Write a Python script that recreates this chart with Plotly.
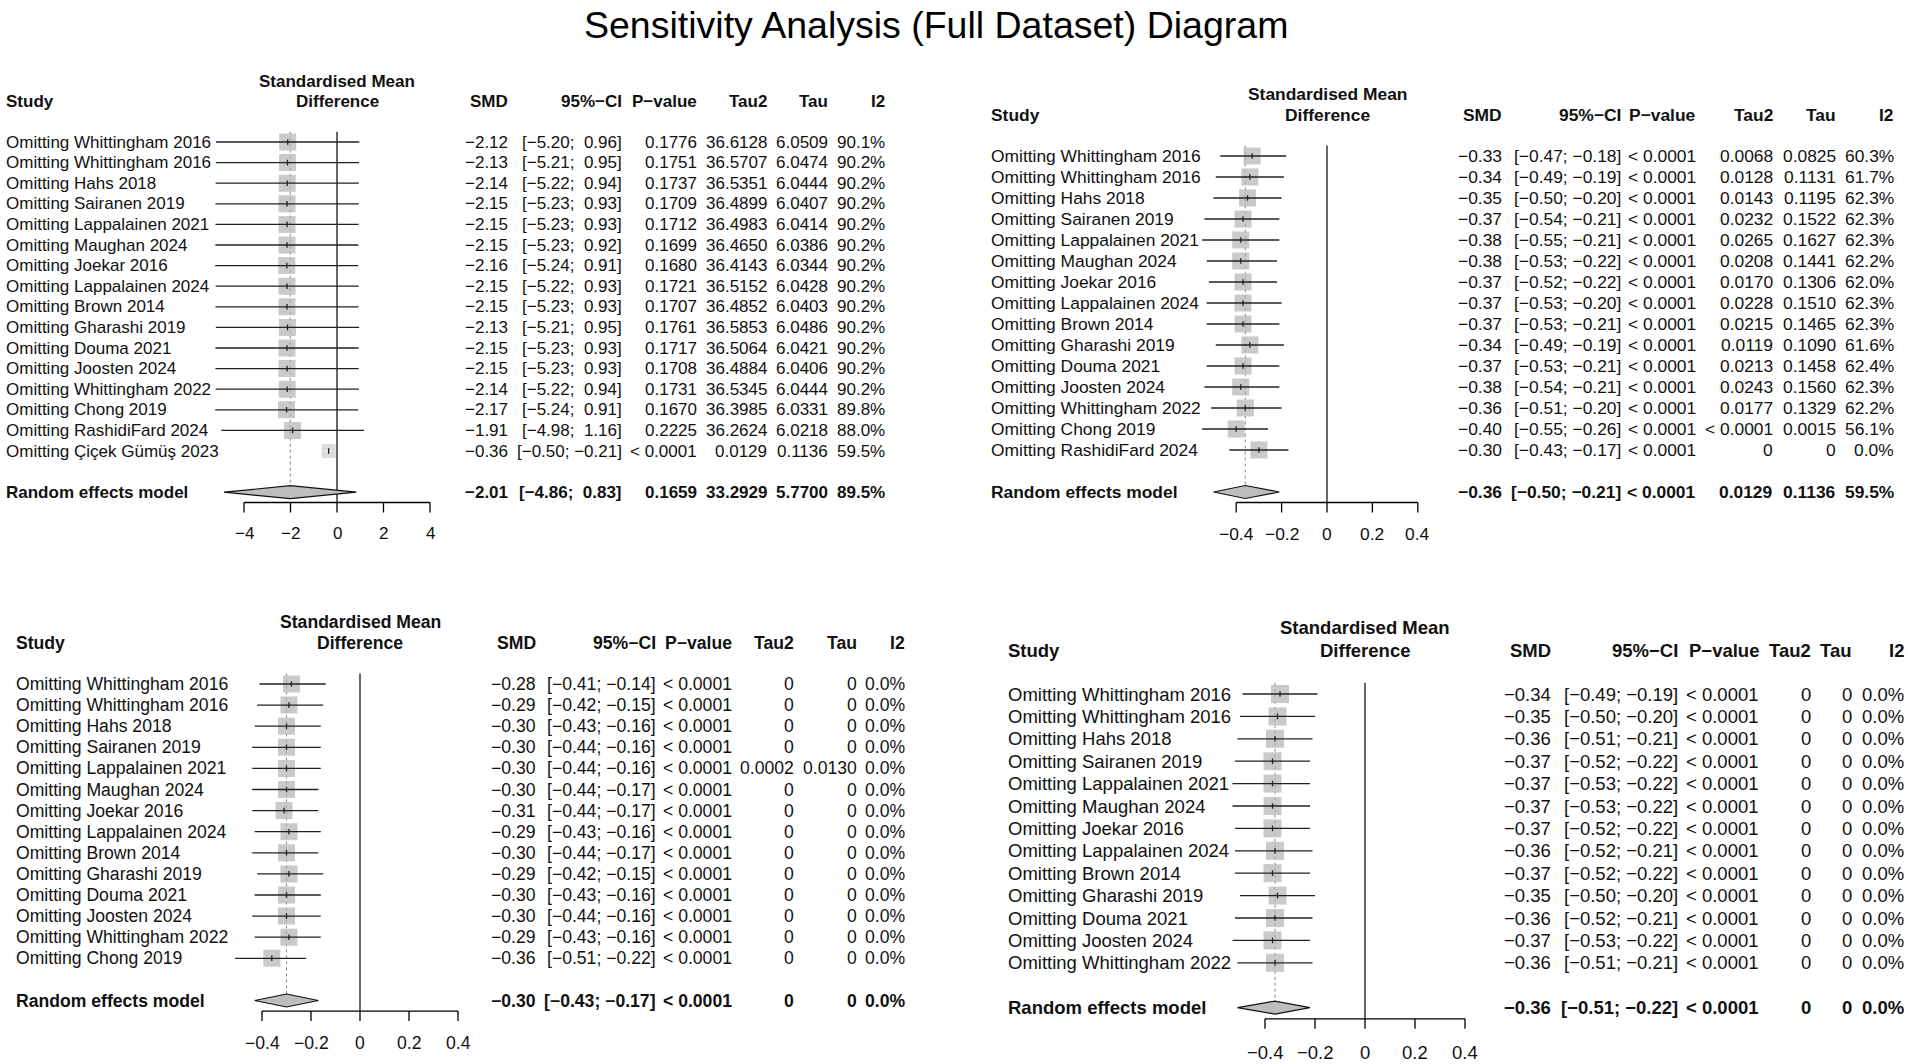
import plotly.graph_objects as go

W, H = 1908, 1064

# ---------------- data ----------------
TITLE = "Sensitivity Analysis (Full Dataset) Diagram"
HEADERS = ["SMD", "95%\u2212CI", "P\u2212value", "Tau2", "Tau", "I2"]
RE_LABEL = "Random effects model"

STUDIES = ["Whittingham 2016", "Whittingham 2016", "Hahs 2018", "Sairanen 2019",
           "Lappalainen 2021", "Maughan 2024", "Joekar 2016", "Lappalainen 2024",
           "Brown 2014", "Gharashi 2019", "Douma 2021", "Joosten 2024",
           "Whittingham 2022", "Chong 2019", "RashidiFard 2024", "Çiçek Gümüş 2023"]

# Panel 1 (top-left): 16 studies
P1_SMD = [-2.12, -2.13, -2.14, -2.15, -2.15, -2.15, -2.16, -2.15, -2.15, -2.13, -2.15, -2.15, -2.14, -2.17, -1.91, -0.36]
P1_LO = [-5.20, -5.21, -5.22, -5.23, -5.23, -5.23, -5.24, -5.22, -5.23, -5.21, -5.23, -5.23, -5.22, -5.24, -4.98, -0.50]
P1_HI = [0.96, 0.95, 0.94, 0.93, 0.93, 0.92, 0.91, 0.93, 0.93, 0.95, 0.93, 0.93, 0.94, 0.91, 1.16, -0.21]
P1_P = ["0.1776", "0.1751", "0.1737", "0.1709", "0.1712", "0.1699", "0.1680", "0.1721", "0.1707", "0.1761", "0.1717", "0.1708", "0.1731", "0.1670", "0.2225", "< 0.0001"]
P1_TAU2 = ["36.6128", "36.5707", "36.5351", "36.4899", "36.4983", "36.4650", "36.4143", "36.5152", "36.4852", "36.5853", "36.5064", "36.4884", "36.5345", "36.3985", "36.2624", "0.0129"]
P1_TAU = ["6.0509", "6.0474", "6.0444", "6.0407", "6.0414", "6.0386", "6.0344", "6.0428", "6.0403", "6.0486", "6.0421", "6.0406", "6.0444", "6.0331", "6.0218", "0.1136"]
P1_I2 = [90.1, 90.2, 90.2, 90.2, 90.2, 90.2, 90.2, 90.2, 90.2, 90.2, 90.2, 90.2, 90.2, 89.8, 88.0, 59.5]
P1_RE = dict(smd=-2.01, lo=-4.86, hi=0.83, p="0.1659", tau2="33.2929", tau="5.7700", i2=89.5)
P1_TICKS = [-4, -2, 0, 2, 4]

# Panel 2 (top-right): 15 studies
P2_SMD = [-0.33, -0.34, -0.35, -0.37, -0.38, -0.38, -0.37, -0.37, -0.37, -0.34, -0.37, -0.38, -0.36, -0.40, -0.30]
P2_LO = [-0.47, -0.49, -0.50, -0.54, -0.55, -0.53, -0.52, -0.53, -0.53, -0.49, -0.53, -0.54, -0.51, -0.55, -0.43]
P2_HI = [-0.18, -0.19, -0.20, -0.21, -0.21, -0.22, -0.22, -0.20, -0.21, -0.19, -0.21, -0.21, -0.20, -0.26, -0.17]
P2_P = ["< 0.0001"] * 15
P2_TAU2 = ["0.0068", "0.0128", "0.0143", "0.0232", "0.0265", "0.0208", "0.0170", "0.0228", "0.0215", "0.0119", "0.0213", "0.0243", "0.0177", "< 0.0001", "0"]
P2_TAU = ["0.0825", "0.1131", "0.1195", "0.1522", "0.1627", "0.1441", "0.1306", "0.1510", "0.1465", "0.1090", "0.1458", "0.1560", "0.1329", "0.0015", "0"]
P2_I2 = [60.3, 61.7, 62.3, 62.3, 62.3, 62.2, 62.0, 62.3, 62.3, 61.6, 62.4, 62.3, 62.2, 56.1, 0.0]
P2_RE = dict(smd=-0.36, lo=-0.50, hi=-0.21, p="< 0.0001", tau2="0.0129", tau="0.1136", i2=59.5)
P2_TICKS = [-0.4, -0.2, 0, 0.2, 0.4]

# Panel 3 (bottom-left): 14 studies
P3_SMD = [-0.28, -0.29, -0.30, -0.30, -0.30, -0.30, -0.31, -0.29, -0.30, -0.29, -0.30, -0.30, -0.29, -0.36]
P3_LO = [-0.41, -0.42, -0.43, -0.44, -0.44, -0.44, -0.44, -0.43, -0.44, -0.42, -0.43, -0.44, -0.43, -0.51]
P3_HI = [-0.14, -0.15, -0.16, -0.16, -0.16, -0.17, -0.17, -0.16, -0.17, -0.15, -0.16, -0.16, -0.16, -0.22]
P3_P = ["< 0.0001"] * 14
P3_TAU2 = ["0", "0", "0", "0", "0.0002", "0", "0", "0", "0", "0", "0", "0", "0", "0"]
P3_TAU = ["0", "0", "0", "0", "0.0130", "0", "0", "0", "0", "0", "0", "0", "0", "0"]
P3_I2 = [0.0] * 14
P3_RE = dict(smd=-0.30, lo=-0.43, hi=-0.17, p="< 0.0001", tau2="0", tau="0", i2=0.0)
P3_TICKS = [-0.4, -0.2, 0, 0.2, 0.4]

# Panel 4 (bottom-right): 13 studies
P4_SMD = [-0.34, -0.35, -0.36, -0.37, -0.37, -0.37, -0.37, -0.36, -0.37, -0.35, -0.36, -0.37, -0.36]
P4_LO = [-0.49, -0.50, -0.51, -0.52, -0.53, -0.53, -0.52, -0.52, -0.52, -0.50, -0.52, -0.53, -0.51]
P4_HI = [-0.19, -0.20, -0.21, -0.22, -0.22, -0.22, -0.22, -0.21, -0.22, -0.20, -0.21, -0.22, -0.21]
P4_P = ["< 0.0001"] * 13
P4_TAU2 = ["0"] * 13
P4_TAU = ["0"] * 13
P4_I2 = [0.0] * 13
P4_RE = dict(smd=-0.36, lo=-0.51, hi=-0.22, p="< 0.0001", tau2="0", tau="0", i2=0.0)
P4_TICKS = [-0.4, -0.2, 0, 0.2, 0.4]

DATA = [
    (P1_SMD, P1_LO, P1_HI, P1_P, P1_TAU2, P1_TAU, P1_I2, P1_RE, P1_TICKS),
    (P2_SMD, P2_LO, P2_HI, P2_P, P2_TAU2, P2_TAU, P2_I2, P2_RE, P2_TICKS),
    (P3_SMD, P3_LO, P3_HI, P3_P, P3_TAU2, P3_TAU, P3_I2, P3_RE, P3_TICKS),
    (P4_SMD, P4_LO, P4_HI, P4_P, P4_TAU2, P4_TAU, P4_I2, P4_RE, P4_TICKS),
]

# ---------------- layout / style (pixel geometry) ----------------
LAY = [
    dict(x0=337, ppu=23.25, xr=(-6.5, 5.0), py1=142, sp=20.6, sx=5,
         cols=[509, 623, 698, 768, 829, 886], fs=17.0, sq=17),
    dict(x0=1327, ppu=227.0, xr=(-0.7, 0.5), py1=156, sp=21.0, sx=990,
         cols=[1503, 1622, 1697, 1774, 1837, 1895], fs=17.4, sq=17),
    dict(x0=360, ppu=245.0, xr=(-0.7, 0.5), py1=684, sp=21.1, sx=15,
         cols=[537, 657, 733, 795, 858, 906], fs=17.6, sq=17),
    dict(x0=1365, ppu=250.0, xr=(-0.7, 0.5), py1=694, sp=22.4, sx=1007,
         cols=[1552, 1679, 1760, 1812, 1853, 1905], fs=18.5, sq=18),
]

FONT = "Liberation Sans, Arial, Helvetica, sans-serif"
TXT = "#111111"
SQ_COL = "#b4b4b4"
MINUS = "\u2212"
NB = "\u00a0"


def num(v, d=2):
    return f"{v:.{d}f}".replace("-", MINUS)


def txt(s):
    return s.replace("-", MINUS)


fig = go.Figure()
annotations = []

for k, (data, lay) in enumerate(zip(DATA, LAY), start=1):
    smd, lo, hi, pv, tau2, tau, i2, re, ticks = data
    n = len(smd)
    xa = "x" if k == 1 else f"x{k}"
    ya = "y" if k == 1 else f"y{k}"
    xkey = "xaxis" if k == 1 else f"xaxis{k}"
    ykey = "yaxis" if k == 1 else f"yaxis{k}"
    sp = lay["sp"]
    fs = lay["fs"]

    rtop, rbot = -2.5, n + 4.3
    top_px = lay["py1"] + (rtop - 1) * sp
    bot_px = lay["py1"] + (rbot - 1) * sp
    x_left = lay["x0"] + lay["xr"][0] * lay["ppu"]
    x_right = lay["x0"] + lay["xr"][1] * lay["ppu"]
    fig.layout[xkey] = dict(domain=[x_left / W, x_right / W], range=list(lay["xr"]),
                            visible=False, fixedrange=True, anchor=ya)
    fig.layout[ykey] = dict(domain=[1 - bot_px / H, 1 - top_px / H], range=[rbot, rtop],
                            visible=False, fixedrange=True, anchor=xa)

    rows = list(range(1, n + 1))
    re_row = n + 2
    ax_row = n + 2.5
    tick_rows = 10 / sp

    # zero line
    fig.add_trace(go.Scatter(x=[0, 0], y=[0.5, ax_row], mode="lines",
                             line=dict(color="#000", width=1.2), xaxis=xa, yaxis=ya,
                             hoverinfo="skip", showlegend=False))
    # dotted line at pooled estimate
    fig.add_trace(go.Scatter(x=[re["smd"], re["smd"]], y=[0.5, re_row - 0.3], mode="lines",
                             line=dict(color="#888", width=1, dash="dot"), xaxis=xa, yaxis=ya,
                             hoverinfo="skip", showlegend=False))
    # x axis line + ticks
    axx, axy = [ticks[0], ticks[-1], None], [ax_row, ax_row, None]
    for t in ticks:
        axx += [t, t, None]
        axy += [ax_row, ax_row + tick_rows, None]
    fig.add_trace(go.Scatter(x=axx, y=axy, mode="lines", line=dict(color="#000", width=1.3),
                             xaxis=xa, yaxis=ya, hoverinfo="skip", showlegend=False))
    # squares
    sizes, colors = [], []
    for j in range(n):
        if (hi[j] - lo[j]) * lay["ppu"] < lay["sq"] - 4:
            sizes.append(lay["sq"] - 3)
            colors.append("#cdcdcd")
        else:
            sizes.append(lay["sq"])
            colors.append(SQ_COL)
    fig.add_trace(go.Scatter(x=smd, y=rows, mode="markers",
                             marker=dict(symbol="square", size=sizes, color=colors, line=dict(width=0)),
                             xaxis=xa, yaxis=ya, hoverinfo="skip", showlegend=False))
    # CI lines (white when inside the square)
    cx_b, cy_b, cx_w, cy_w = [], [], [], []
    for j in range(n):
        if (hi[j] - lo[j]) * lay["ppu"] < sizes[j]:
            cx_w += [lo[j], hi[j], None]
            cy_w += [j + 1, j + 1, None]
        else:
            cx_b += [lo[j], hi[j], None]
            cy_b += [j + 1, j + 1, None]
    fig.add_trace(go.Scatter(x=cx_b, y=cy_b, mode="lines", line=dict(color="#222", width=1.3),
                             xaxis=xa, yaxis=ya, hoverinfo="skip", showlegend=False))
    if cx_w:
        fig.add_trace(go.Scatter(x=cx_w, y=cy_w, mode="lines", line=dict(color="#fff", width=1.2),
                                 xaxis=xa, yaxis=ya, hoverinfo="skip", showlegend=False))
    # small point marks
    fig.add_trace(go.Scatter(x=smd, y=rows, mode="markers",
                             marker=dict(symbol="line-ns", size=4, line=dict(color="#222", width=1.3)),
                             xaxis=xa, yaxis=ya, hoverinfo="skip", showlegend=False))
    # diamond
    hh = 6.5 / sp
    fig.add_trace(go.Scatter(x=[re["lo"], re["smd"], re["hi"], re["smd"], re["lo"]],
                             y=[re_row, re_row - hh, re_row, re_row + hh, re_row],
                             mode="lines", fill="toself", fillcolor="#bdbdbd",
                             line=dict(color="#111", width=1.2),
                             xaxis=xa, yaxis=ya, hoverinfo="skip", showlegend=False))

    def ann(text, xpx, row, anchor="right", bold=False, size=None):
        annotations.append(dict(
            text=f"<b>{text}</b>" if bold else text,
            x=xpx / W, xref="paper", y=row, yref=ya,
            xanchor=anchor, yanchor="middle", showarrow=False, borderpad=0,
            font=dict(family=FONT, size=size or fs, color=TXT)))

    # headers
    ann("Study", lay["sx"], -0.95, anchor="left", bold=True)
    ann("Standardised Mean", lay["x0"], -1.95, anchor="center", bold=True)
    ann("Difference", lay["x0"], -0.95, anchor="center", bold=True)
    for h, cx in zip(HEADERS, lay["cols"]):
        ann(h, cx, -0.95, bold=True)

    # CI padding
    all_lo = [num(v) for v in lo + [re["lo"]]]
    all_hi = [num(v) for v in hi + [re["hi"]]]
    wl = max(len(s) for s in all_lo)
    wh = max(len(s) for s in all_hi)

    def ci(a, b):
        return "[" + NB * (wl - len(a)) + a + ";" + NB + NB * (wh - len(b)) + b + "]"

    for j in range(n):
        r = j + 1
        ann("Omitting " + STUDIES[j], lay["sx"], r, anchor="left")
        vals = [num(smd[j]), ci(all_lo[j], all_hi[j]), pv[j], tau2[j], tau[j], f"{i2[j]:.1f}%"]
        for v, cx in zip(vals, lay["cols"]):
            ann(v.replace(" ", NB), cx, r)

    ann(RE_LABEL, lay["sx"], re_row, anchor="left", bold=True)
    vals = [num(re["smd"]), ci(all_lo[-1], all_hi[-1]), re["p"], re["tau2"], re["tau"], f"{re['i2']:.1f}%"]
    for v, cx in zip(vals, lay["cols"]):
        ann(v.replace(" ", NB), cx, re_row, bold=True)

    # tick labels
    for t in ticks:
        lab = "0" if t == 0 else txt(f"{t:g}")
        annotations.append(dict(text=lab, x=t, xref=xa, y=n + 4.0, yref=ya,
                                xanchor="center", yanchor="middle", showarrow=False, borderpad=0,
                                font=dict(family=FONT, size=fs, color=TXT)))

annotations.append(dict(text=TITLE, x=936 / W, xref="paper", y=1 - 25 / H, yref="paper",
                        xanchor="center", yanchor="middle", showarrow=False, borderpad=0,
                        font=dict(family="Liberation Sans Narrow, Arial Narrow, Liberation Sans, sans-serif",
                                  size=37.5, color="#000")))

fig.update_layout(width=W, height=H, autosize=False,
                  margin=dict(l=0, r=0, t=0, b=0, pad=0),
                  paper_bgcolor="white", plot_bgcolor="rgba(0,0,0,0)",
                  showlegend=False, annotations=annotations)

fig.write_html("out.html", config={"displayModeBar": False, "staticPlot": True},
               post_script="document.body.style.margin='0';document.body.style.overflow='hidden';")
